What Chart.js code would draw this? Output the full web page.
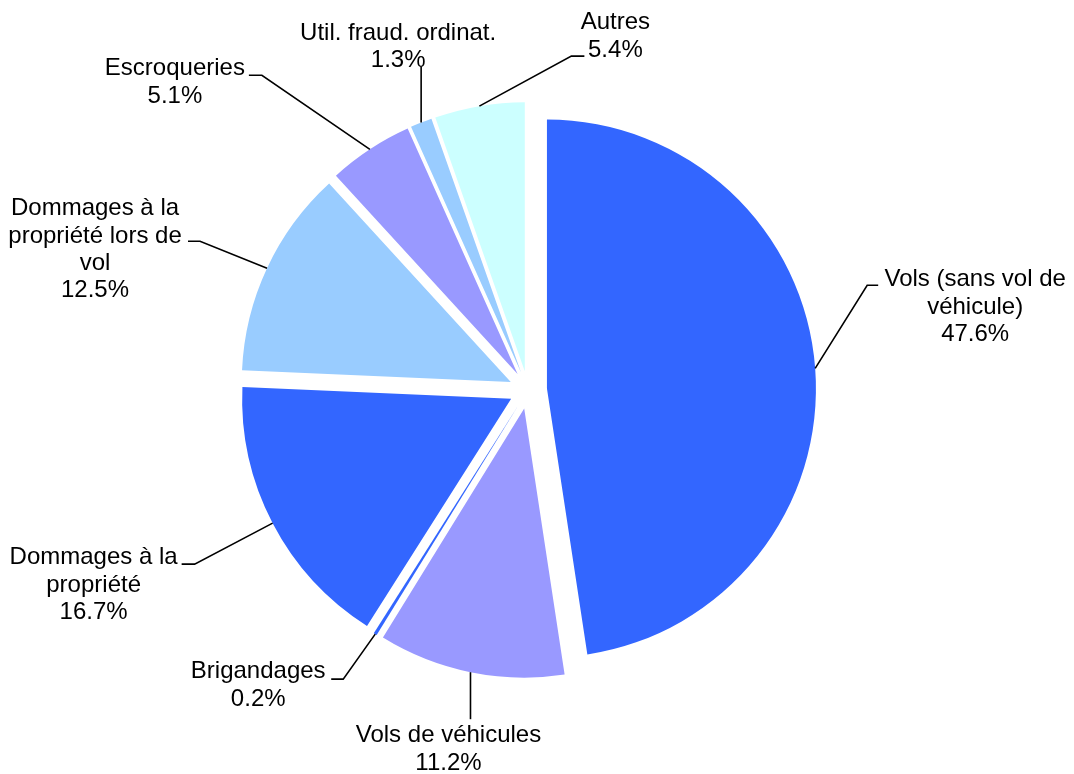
<!DOCTYPE html>
<html>
<head>
<meta charset="utf-8">
<script src="https://cdn.jsdelivr.net/npm/chart.js@4/dist/chart.umd.min.js"></script>
<style>
  html, body { margin: 0; padding: 0; background: #fff; }
  canvas { display: block; }
</style>
</head>
<body>
<canvas id="pieChart" width="1074" height="774"></canvas>
<script>
'use strict';

// data
let categories = [
  ['Vols (sans vol de', 'véhicule)'],
  ['Vols de véhicules'],
  ['Brigandages'],
  ['Dommages à la', 'propriété'],
  ['Dommages à la', 'propriété lors de', 'vol'],
  ['Escroqueries'],
  ['Util. fraud. ordinat.'],
  ['Autres']
];
let shares = [47.6, 11.2, 0.2, 16.7, 12.5, 5.1, 1.3, 5.4];
let sliceColors = ['#3366FF', '#9999FF', '#3366FF', '#3366FF', '#99CCFF', '#9999FF', '#99CCFF', '#CCFFFF'];

// layout of the outside labels, relative to the point where the leader leaves the slice
// elbow = bend of the leader, end = where it stops, text = centre x / first baseline
let labelLayout = [
  { elbow: [52, -83], end: [63, -83], text: [160, -82] },
  { elbow: [0, 47], end: [0, 47], text: [-22, 70] },
  { elbow: [-32, 45], end: [-44, 45], text: [-117, 44] },
  { elbow: [-78, 41], end: [-91, 41], text: [-179, 41] },
  { elbow: [-67, -27], end: [-79, -27], text: [-172, -53] },
  { elbow: [-108, -74], end: [-121, -74], text: [-195, -74] },
  { elbow: [0, -56], end: [0, -56], text: [-23, -83] },
  { elbow: [92, -50], end: [105, -50], text: [136, -77] }
];

let explodeDistance = 19;
let labelFont = '24px "Liberation Sans", Arial, sans-serif';
let lineHeight = 27.4;

// draws every slice pushed out along its middle angle
const explodePlugin = {
  id: 'explodePlugin',
  beforeDatasetDraw(chart, args) {
    let ctx = chart.ctx;
    args.meta.data.forEach((arc) => {
      let mid = (arc.startAngle + arc.endAngle) / 2;
      ctx.save();
      ctx.translate(Math.cos(mid) * explodeDistance, Math.sin(mid) * explodeDistance);
      arc.draw(ctx, chart.chartArea);
      ctx.restore();
    });
    return false;
  }
};

// leader lines and labels
const labelPlugin = {
  id: 'labelPlugin',
  afterDatasetsDraw(chart) {
    let ctx = chart.ctx;
    let meta = chart.getDatasetMeta(0);
    ctx.save();
    ctx.font = labelFont;
    ctx.fillStyle = '#000';
    ctx.strokeStyle = '#000';
    ctx.lineWidth = 1.6;
    ctx.textAlign = 'center';
    ctx.textBaseline = 'alphabetic';

    meta.data.forEach((arc, i) => {
      let mid = (arc.startAngle + arc.endAngle) / 2;
      let reach = arc.outerRadius + explodeDistance;
      let px = arc.x + Math.cos(mid) * reach;
      let py = arc.y + Math.sin(mid) * reach;
      let lay = labelLayout[i];

      ctx.beginPath();
      ctx.moveTo(px, py);
      ctx.lineTo(px + lay.elbow[0], py + lay.elbow[1]);
      ctx.lineTo(px + lay.end[0], py + lay.end[1]);
      ctx.stroke();

      let lines = categories[i].concat([shares[i].toFixed(1) + '%']);
      for (let j = 0; j < lines.length; j++) {
        ctx.fillText(lines[j], px + lay.text[0], py + lay.text[1] + j * lineHeight);
      }
    });
    ctx.restore();
  }
};

let ctx = document.getElementById('pieChart');

let chartObject = {
  type: 'pie',
  data: {
    labels: categories,
    datasets: [{
      data: shares,
      backgroundColor: sliceColors,
      borderWidth: 0
    }]
  },
  options: {
    responsive: false,
    animation: false,
    devicePixelRatio: 1,
    radius: 269,
    layout: {
      padding: { left: 0, right: 18, top: 6, bottom: 0 }
    },
    plugins: {
      legend: { display: false },
      tooltip: { enabled: false }
    }
  },
  plugins: [explodePlugin, labelPlugin]
};

const pieOfOffences = new Chart(ctx, chartObject);
</script>
</body>
</html>
